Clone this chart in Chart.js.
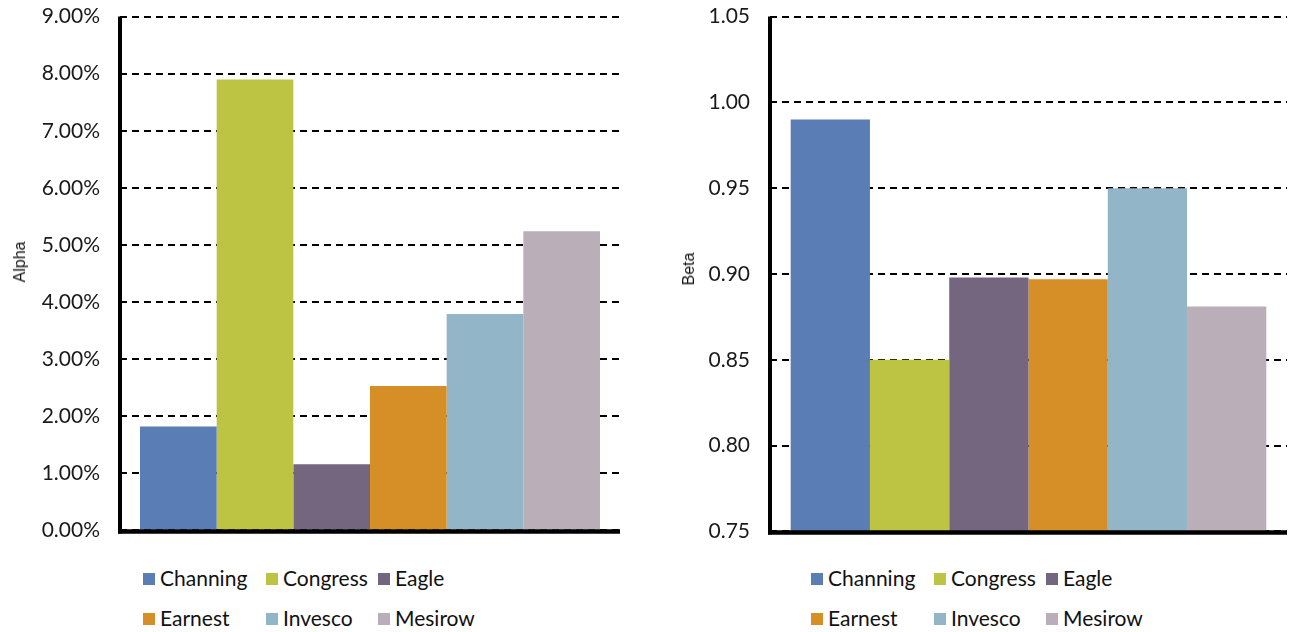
<!DOCTYPE html>
<html>
<head>
<meta charset="utf-8">
<script src="https://cdn.jsdelivr.net/npm/chart.js@4/dist/chart.umd.min.js"></script>
<style>
  html, body { margin: 0; padding: 0; background: #fff; }
  body { width: 1289px; height: 632px; position: relative; overflow: hidden; font-family: Lato, "Open Sans", sans-serif; }
  .box { position: absolute; top: -16px; }
  .legend { position: absolute; font-family: Lato, sans-serif; font-size: 21px; color: #111; }
  .item { position: absolute; white-space: nowrap; line-height: 20px; }
  .sw { display: inline-block; width: 12px; height: 12px; margin-right: 5px; vertical-align: 1px; }
  .ytitle { position: absolute; font-family: "Liberation Sans", Arial, sans-serif; font-size: 16px; color: #111;
            line-height: 16px; white-space: nowrap; transform: translate(-50%, -50%) rotate(-90deg); }
</style>
</head>
<body>
<div class="box" style="left:0;width:640px;height:579px;"><canvas id="alpha"></canvas></div>
<div class="box" style="left:650px;width:639px;height:580px;"><canvas id="beta"></canvas></div>
<div class="ytitle" id="titleA" style="left:20px;top:262px;"></div>
<div class="ytitle" id="titleB" style="left:689px;top:269px;"></div>
<div class="legend" id="legA" style="left:143px;top:568px;"></div>
<div class="legend" id="legB" style="left:811px;top:568px;"></div>
<script>
const funds = ['Channing', 'Congress', 'Eagle', 'Earnest', 'Invesco', 'Mesirow'];
const fundColors = ['#5B7DB5', '#BDC443', '#74667F', '#D68F26', '#93B5C8', '#BAAFB8'];
const alphaValues = [1.82, 7.90, 1.16, 2.53, 3.79, 5.24];   // percent
const betaValues = [0.990, 0.850, 0.898, 0.897, 0.950, 0.881];
const alphaAxis = { min: 0, max: 9, step: 1, title: 'Alpha' };
const betaAxis = { min: 0.75, max: 1.05, step: 0.05, title: 'Beta' };

const axisLines = {
  id: 'axisLines',
  afterDatasetsDraw(chart) {
    const { ctx, chartArea: a } = chart;
    ctx.save();
    ctx.strokeStyle = '#000';
    ctx.lineCap = 'butt';
    ctx.lineWidth = 4;
    ctx.beginPath();
    ctx.moveTo(a.left, a.top);
    ctx.lineTo(a.left, a.bottom + 3);
    ctx.stroke();
    ctx.lineWidth = 4.5;
    ctx.beginPath();
    ctx.moveTo(a.left - 2, a.bottom + 1);
    ctx.lineTo(a.right, a.bottom + 1);
    ctx.stroke();
    ctx.restore();
  }
};

function makeChart(id, values, axis, fmt, padRight) {
  return new Chart(document.getElementById(id), {
    type: 'bar',
    data: {
      labels: [''],
      datasets: funds.map((f, i) => ({
        label: f,
        data: [values[i]],
        backgroundColor: fundColors[i],
        borderWidth: 0,
        categoryPercentage: 0.92,
        barPercentage: 1.0
      }))
    },
    options: {
      responsive: true,
      maintainAspectRatio: false,
      animation: false,
      layout: { padding: { top: 0, right: padRight, bottom: 0, left: 0 } },
      plugins: { legend: { display: false }, tooltip: { enabled: false } },
      scales: {
        x: {
          grid: { display: false },
          border: { display: false },
          ticks: { display: false },
          afterFit(s) { s.height = 0; }
        },
        y: {
          min: axis.min,
          max: axis.max,
          afterFit(s) { s.width = 120; },
          ticks: {
            stepSize: axis.step,
            padding: 20,
            color: '#1a1a1a',
            font: { family: 'Lato', size: 21 },
            callback: fmt
          },
          grid: { color: '#000', lineWidth: 2, drawTicks: false },
          border: { display: false, dash: [7, 5] },
          title: { display: false }
        }
      }
    },
    plugins: [axisLines]
  });
}

makeChart('alpha', alphaValues, alphaAxis, v => Number(v).toFixed(2) + '%', 20);
makeChart('beta', betaValues, betaAxis, v => Number(v).toFixed(2), 2);
document.getElementById('titleA').textContent = alphaAxis.title;
document.getElementById('titleB').textContent = betaAxis.title;

function buildLegend(el) {
  const cols = [0, 123, 235];
  funds.forEach((f, i) => {
    const d = document.createElement('div');
    d.className = 'item';
    d.style.left = cols[i % 3] + 'px';
    d.style.top = (Math.floor(i / 3) * 40) + 'px';
    d.innerHTML = '<span class="sw" style="background:' + fundColors[i] + '"></span>' + f;
    el.appendChild(d);
  });
}
buildLegend(document.getElementById('legA'));
buildLegend(document.getElementById('legB'));
</script>
</body>
</html>
